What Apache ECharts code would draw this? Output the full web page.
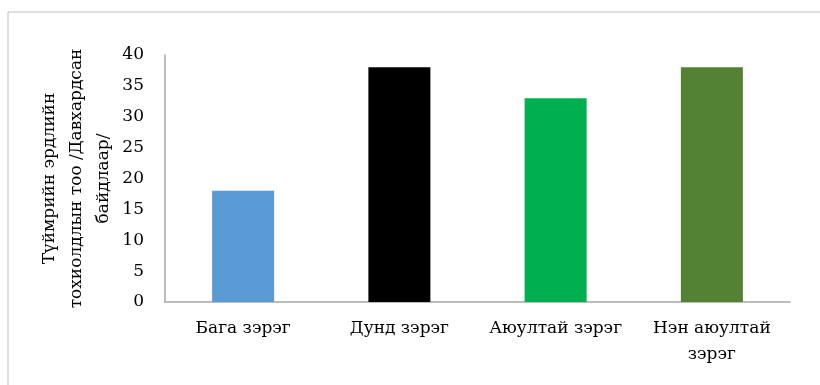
<!DOCTYPE html>
<html><head><meta charset="utf-8">
<script src="https://cdn.jsdelivr.net/npm/echarts@6/dist/echarts.min.js"></script>
<style>html,body{margin:0;padding:0;background:#fff}#c{width:820px;height:385px}</style>
</head><body><div id="c"></div>
<script>
const categories = ['Бага зэрэг', 'Дунд зэрэг', 'Аюултай зэрэг', 'Нэн аюултай\nзэрэг'];
const values = [18, 38, 33, 38];
const colors = ['#5b9bd5', '#000000', '#00b050', '#548235'];
const yTitle = 'Түймрийн эрдлийн\nтохиолдлын тоо /Давхардсан\nбайдлаар/';
const FONT = 'DejaVu Serif';
const chart = echarts.init(document.getElementById('c'));
chart.setOption({
  animation: false,
  backgroundColor: '#fff',
  graphic: [
    {type: 'line', shape: {x1: 8, y1: 12, x2: 820, y2: 12}, style: {stroke: '#bfbfbf', lineWidth: 1}},
    {type: 'line', shape: {x1: 8, y1: 12, x2: 8, y2: 385}, style: {stroke: '#bfbfbf', lineWidth: 1}}
  ],
  grid: {left: 165, right: 30, top: 55, bottom: 83, outerBoundsMode: 'none', containLabel: false},
  xAxis: {
    type: 'category', data: categories,
    axisLine: {lineStyle: {color: '#a6a6a6', width: 1.5}},
    axisTick: {show: false},
    axisLabel: {fontFamily: FONT, fontSize: 17, color: '#000', margin: 14, lineHeight: 26, interval: 0}
  },
  yAxis: {
    type: 'value', min: 0, max: 40, interval: 5,
    name: yTitle, nameLocation: 'middle', nameRotate: 90, nameGap: 48, nameMoveOverlap: false,
    nameTextStyle: {fontFamily: FONT, fontSize: 17, color: '#000', lineHeight: 27, align: 'center'},
    axisLine: {show: true, lineStyle: {color: '#a6a6a6', width: 1.5}},
    axisTick: {show: false},
    splitLine: {show: false},
    axisLabel: {fontFamily: FONT, fontSize: 17, color: '#000', margin: 21}
  },
  series: [{
    type: 'bar', barWidth: 62,
    data: values.map((v, i) => ({value: v, itemStyle: {color: colors[i]}}))
  }]
});
</script></body></html>
